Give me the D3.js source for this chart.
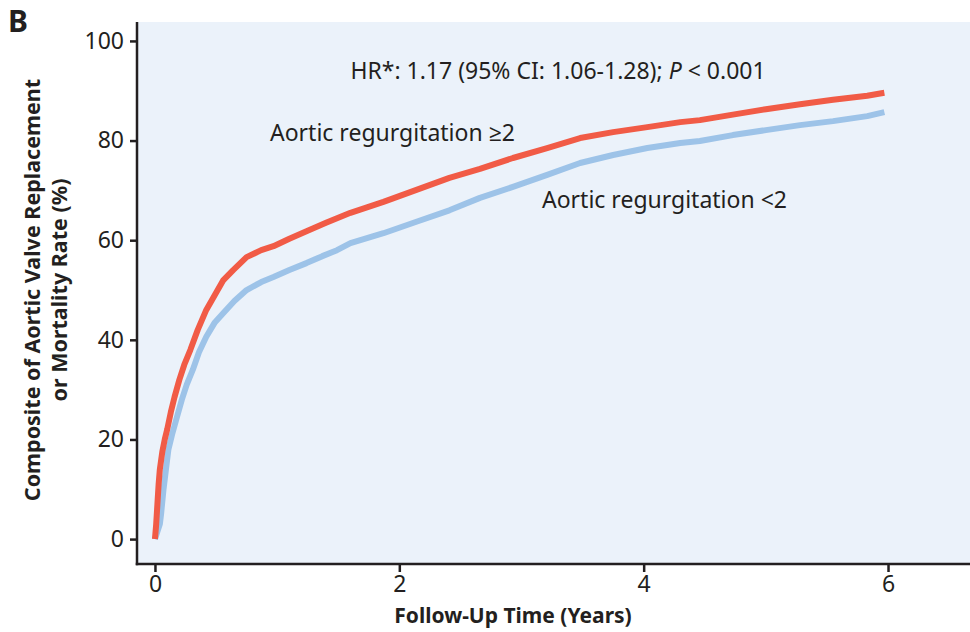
<!DOCTYPE html>
<html>
<head>
<meta charset="utf-8">
<script src="https://cdn.jsdelivr.net/npm/d3@7"></script>
<style>
  html, body { margin: 0; padding: 0; background: #fff; }
  svg { display: block; }
  text { font-family: "Noto Sans", "Open Sans", sans-serif; fill: #231f20; }
</style>
</head>
<body>
<svg id="chart" width="970" height="632"></svg>
<script>
// ---- Data ----
const xTicks = [0, 2, 4, 6];
const yTicks = [0, 20, 40, 60, 80, 100];

const arHighTime = [0, 0.01, 0.02, 0.03, 0.04, 0.06, 0.08, 0.10, 0.13, 0.16, 0.20, 0.24, 0.29, 0.35, 0.42, 0.49, 0.56, 0.64, 0.75, 0.87, 0.97, 1.1, 1.24, 1.4, 1.6, 1.87, 2.14, 2.41, 2.66, 2.93, 3.21, 3.48, 3.75, 4.03, 4.3, 4.46, 4.73, 5.0, 5.28, 5.55, 5.83, 5.97];
const arHighRate = [0, 3, 7, 11, 14, 17.5, 20, 22, 25.5, 28.5, 32, 35, 38, 42, 46, 49, 52, 54, 56.6, 58, 58.8, 60.3, 61.8, 63.5, 65.5, 67.7, 70.1, 72.5, 74.3, 76.5, 78.5, 80.5, 81.7, 82.7, 83.7, 84.1, 85.2, 86.3, 87.3, 88.2, 89, 89.6];

const arLowTime = [0, 0.02, 0.04, 0.05, 0.07, 0.09, 0.11, 0.14, 0.18, 0.22, 0.26, 0.31, 0.36, 0.42, 0.49, 0.56, 0.65, 0.75, 0.87, 0.97, 1.1, 1.24, 1.37, 1.49, 1.6, 1.87, 2.14, 2.41, 2.66, 2.93, 3.21, 3.48, 3.75, 4.03, 4.3, 4.46, 4.73, 5.0, 5.28, 5.55, 5.83, 5.97];
const arLowRate = [0, 1.5, 3, 5, 10, 14, 18, 21, 24.5, 28, 31, 34, 37.5, 40.6, 43.5, 45.4, 47.8, 50, 51.6, 52.6, 54, 55.4, 56.8, 58, 59.4, 61.4, 63.7, 66, 68.5, 70.7, 73.1, 75.5, 77.1, 78.5, 79.5, 79.9, 81.1, 82.1, 83.1, 83.9, 84.9, 85.7];

const seriesNames = ["Aortic regurgitation <2", "Aortic regurgitation \u22652"];

// ---- Layout ----
const svg = d3.select("#chart");
const plot = { left: 137, right: 970, top: 22, bottom: 564 };

const x = d3.scaleLinear().domain([-0.147, 6.671]).range([plot.left, plot.right]);
const y = d3.scaleLinear().domain([-5.0, 103.8]).range([plot.bottom, plot.top]);

// Panel letter
svg.append("text").attr("x", 8).attr("y", 32)
  .style("font-size", "30px").style("font-weight", "bold").text("B");

// Plot background
svg.append("rect")
  .attr("x", plot.left).attr("y", plot.top)
  .attr("width", plot.right - plot.left).attr("height", plot.bottom - plot.top)
  .attr("fill", "#ebf2fa");

// Lines
const line = d3.line().x(d => x(d[0])).y(d => y(d[1])).curve(d3.curveLinear);
const lowData = arLowTime.map((t, i) => [t, arLowRate[i]]);
const highData = arHighTime.map((t, i) => [t, arHighRate[i]]);

svg.append("path").datum(lowData).attr("d", line)
  .attr("fill", "none").attr("stroke", "#9dc3e8").attr("stroke-width", 6)
  .attr("stroke-linejoin", "round");
svg.append("path").datum(highData).attr("d", line)
  .attr("fill", "none").attr("stroke", "#f15b46").attr("stroke-width", 6)
  .attr("stroke-linejoin", "round");

// Axes
const yAxis = d3.axisLeft(y).tickValues(yTicks).tickFormat(d3.format("d")).tickSize(7).tickPadding(6);
const gy = svg.append("g").attr("transform", `translate(${plot.left},0)`).call(yAxis);
gy.select(".domain").remove();
gy.selectAll(".tick line").attr("stroke", "#231f20").attr("stroke-width", 2.5);
gy.selectAll(".tick text").style("font-size", "23px").style("font-family", "\"Noto Sans\", sans-serif").attr("fill", "#231f20");

const xAxis = d3.axisBottom(x).tickValues(xTicks).tickFormat(d3.format("d")).tickSize(8).tickPadding(4);
const gx = svg.append("g").attr("transform", `translate(0,${plot.bottom})`).call(xAxis);
gx.select(".domain").remove();
gx.selectAll(".tick line").attr("stroke", "#231f20").attr("stroke-width", 2.5);
gx.selectAll(".tick text").style("font-size", "23px").style("font-family", "\"Noto Sans\", sans-serif").attr("fill", "#231f20");

// Axis lines
svg.append("line").attr("x1", plot.left).attr("x2", plot.left)
  .attr("y1", plot.top).attr("y2", plot.bottom + 1.25)
  .attr("stroke", "#231f20").attr("stroke-width", 2.5);
svg.append("line").attr("x1", plot.left - 1.25).attr("x2", plot.right)
  .attr("y1", plot.bottom).attr("y2", plot.bottom)
  .attr("stroke", "#231f20").attr("stroke-width", 2.5);

// Axis titles
svg.append("text").attr("x", 513).attr("y", 623).attr("text-anchor", "middle")
  .style("font-size", "21px").style("font-weight", "bold").text("Follow-Up Time (Years)");

const yt = svg.append("text").attr("transform", "translate(0,290) rotate(-90)")
  .attr("text-anchor", "middle").style("font-size", "21.5px").style("font-weight", "bold");
yt.append("tspan").attr("x", 0).attr("y", 40).text("Composite of Aortic Valve Replacement");
yt.append("tspan").attr("x", 0).attr("y", 67).text("or Mortality Rate (%)");

// Annotations
const hr = svg.append("text").attr("x", 558).attr("y", 79).attr("text-anchor", "middle")
  .style("font-size", "23px");
hr.append("tspan").text("HR*: 1.17 (95% CI: 1.06-1.28); ");
hr.append("tspan").style("font-style", "italic").text("P");
hr.append("tspan").text(" < 0.001");

svg.append("text").attr("x", 270).attr("y", 141).style("font-size", "23px").text(seriesNames[1]);
svg.append("text").attr("x", 542).attr("y", 208).style("font-size", "23px").text(seriesNames[0]);
</script>
</body>
</html>
